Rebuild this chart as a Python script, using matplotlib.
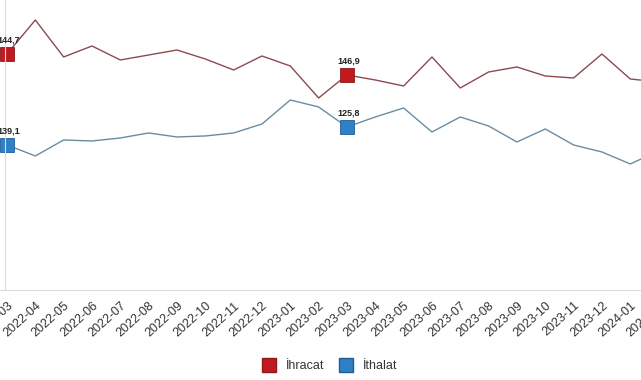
# Monthly unit value index lines (export / import), cropped view

import matplotlib
matplotlib.use('Agg')
import matplotlib.pyplot as plt
from matplotlib.lines import Line2D

plt.rcParams['font.family'] = ['Liberation Sans', 'DejaVu Sans']

# months on the x axis
months = ['2022-03', '2022-04', '2022-05', '2022-06', '2022-07', '2022-08',
          '2022-09', '2022-10', '2022-11', '2022-12', '2023-01', '2023-02',
          '2023-03', '2023-04', '2023-05', '2023-06', '2023-07', '2023-08',
          '2023-09', '2023-10', '2023-11', '2023-12', '2024-01', '2024-02']

# series values (same vertical scale)
ihracat = [147.2, 154.0, 146.6, 148.8, 146.0, 147.0, 148.0, 146.2, 144.0, 146.8,
           144.8, 138.4, 143.0, 142.0, 140.8, 146.6, 140.4, 143.6, 144.6, 142.8,
           142.4, 147.2, 142.2, 141.6]
ithalat = [129.0, 126.8, 130.0, 129.8, 130.4, 131.4, 130.6, 130.8, 131.4, 133.2,
           138.0, 136.6, 132.6, 134.6, 136.4, 131.6, 134.6, 132.8, 129.6, 132.2,
           129.0, 127.6, 125.2, 127.8]

# highlighted points and their labels
marked = [0, 12]
ihracat_labels = ['144,7', '146,9']
ithalat_labels = ['139,1', '125,8']

red_line = '#8c4a4f'
red_mark = '#c01a20'
blue_line = '#6a8ca3'
blue_mark = '#2f80c4'

fig = plt.figure(figsize=(6.41, 3.80), dpi=100)
# axes run a bit past the right edge so the view looks cropped like the reference
ax = fig.add_axes([0.0, 0.237, 1.0407, 0.763])

x = list(range(len(months)))
ax.plot(x, ihracat, color=red_line, lw=1.0)
ax.plot(x, ithalat, color=blue_line, lw=1.0)

for i, lab_r, lab_b in zip(marked, ihracat_labels, ithalat_labels):
    ax.plot(i, ihracat[i], marker='s', ms=9.5, color=red_mark, mec='#8b1a1a', mew=0.6)
    ax.plot(i, ithalat[i], marker='s', ms=9.5, color=blue_mark, mec='#1f5f99', mew=0.6)
    ax.annotate(lab_r, (i, ihracat[i]), xytext=(1, 7), textcoords='offset points',
                ha='center', va='bottom', fontsize=6.5, fontweight='bold', color='#222222')
    ax.annotate(lab_b, (i, ithalat[i]), xytext=(1, 7), textcoords='offset points',
                ha='center', va='bottom', fontsize=6.5, fontweight='bold', color='#222222')

ax.set_xticks(x)
ax.set_xticklabels(months, rotation=42, ha='right', va='top', rotation_mode='anchor',
                   fontsize=9, color='#333333')
ax.set_yticks([])
ax.tick_params(axis='x', length=0, pad=7)
ax.set_xlim(-0.247, 23.3)
ax.set_ylim(100, 158)

for side in ['top', 'right']:
    ax.spines[side].set_visible(False)
ax.spines['left'].set_position(('data', -0.07))
ax.spines['left'].set_color('#dddddd')
ax.spines['bottom'].set_color('#dddddd')

handles = [Line2D([], [], marker='s', ls='none', ms=10, color=red_mark, mec='#8b1a1a'),
           Line2D([], [], marker='s', ls='none', ms=10, color=blue_mark, mec='#1f5f99')]
fig.legend(handles, ['İhracat', 'İthalat'], loc='center', bbox_to_anchor=(0.51, 0.037),
           ncol=2, frameon=False, fontsize=9, handletextpad=0.3, columnspacing=0.8,
           labelcolor='#333333')

fig.savefig('out.png', dpi=100)
